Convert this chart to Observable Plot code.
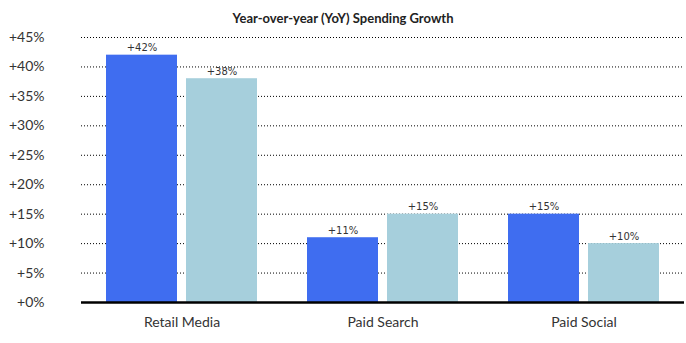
<!DOCTYPE html>
<html>
<head>
<meta charset="utf-8">
<script src="https://cdn.jsdelivr.net/npm/d3@7"></script>
<script src="https://cdn.jsdelivr.net/npm/@observablehq/plot@0.6"></script>
<style>
  html, body { margin: 0; padding: 0; background: #fff; }
  #title { height: 20px; width: 686px; text-align: center; font-family: Lato, sans-serif; font-weight: bold; font-size: 13px; line-height: 36px; color: #222; overflow: visible; position: relative; z-index: 1; }
  #chart svg { overflow: visible; }
</style>
</head>
<body>
<div id="title">Year-over-year (YoY) Spending Growth</div>
<div id="chart"></div>
<script>
const categories = ["Retail Media", "Paid Search", "Paid Social"];
const series = ["Previous", "Current"];
const seriesA = [42, 11, 15];
const seriesB = [38, 15, 10];
const yTicks = [0, 5, 10, 15, 20, 25, 30, 35, 40, 45];
const colors = ["#3F6DF0", "#A6CFDC"];

const data = [];
categories.forEach((c, i) => {
  data.push({category: c, series: series[0], value: seriesA[i]});
  data.push({category: c, series: series[1], value: seriesB[i]});
});

const fmt = d => "+" + d + "%";

const chart = Plot.plot({
  width: 686,
  height: 323,
  marginTop: 17,
  marginBottom: 41,
  marginLeft: 80,
  marginRight: 2,
  style: { fontFamily: "Lato, sans-serif", fontSize: "14px", color: "#333", background: "transparent" },
  fx: { domain: categories, padding: 0, label: null, axis: "bottom", tickSize: 0, tickPadding: 15 },
  x: { domain: series, paddingInner: 0.11, paddingOuter: 0.305, axis: null },
  y: { domain: [0, 45], ticks: yTicks, tickFormat: fmt, label: null, tickSize: 0, tickPadding: 37 },
  color: { domain: series, range: colors },
  marks: [
    Plot.gridY(yTicks, { stroke: "#000", strokeOpacity: 1, strokeDasharray: "1,2", strokeWidth: 1 }),
    Plot.barY(data, { fx: "category", x: "series", y: "value", fill: "series" }),
    Plot.text(data, { fx: "category", x: "series", y: "value", text: d => fmt(d.value), dy: -4, lineAnchor: "bottom", fontFamily: "DejaVu Sans, sans-serif", fontSize: 10, fill: "#333" }),
    Plot.ruleY([0], { stroke: "#000", strokeWidth: 2.5 })
  ]
});
document.getElementById("chart").appendChild(chart);
</script>
</body>
</html>
